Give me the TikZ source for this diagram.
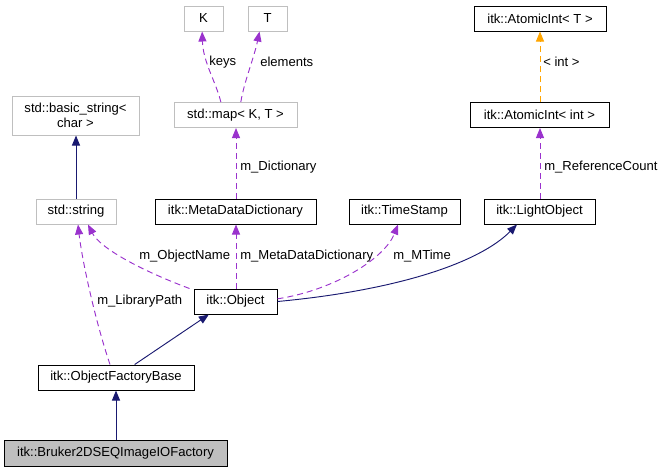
\documentclass[tikz,border=0pt]{standalone}
\usepackage{fontspec}
\setmainfont{Liberation Sans}
\usetikzlibrary{arrows.meta}
\definecolor{edgeblue}{HTML}{191970}
\definecolor{edgepurple}{HTML}{9A32CD}
\definecolor{edgeorange}{HTML}{FFA500}
\definecolor{boxgrey}{HTML}{BFBFBF}
\tikzset{
	cls/.style={draw=black, fill=white, line width=0.75pt, inner sep=0pt, minimum height=18.75pt, font=\fontsize{9.8}{11}\selectfont},
	ext/.style={cls, draw=boxgrey},
	bw/.style={minimum width=#1*0.75pt},
	inherit/.style={draw=edgeblue, line width=0.7pt, -{Triangle[length=7.5pt,width=6pt]}},
	usage/.style={draw=edgepurple, line width=0.7pt, dash pattern=on 4.5pt off 3pt, -{Triangle[length=7.5pt,width=6pt]}},
	tmpl/.style={draw=edgeorange, line width=0.7pt, dash pattern=on 4.5pt off 3pt, -{Triangle[length=7.5pt,width=6pt]}},
	lbl/.style={anchor=west, inner sep=0pt, font=\fontsize{9.8}{11}\selectfont}
}

\begin{document}
\begin{tikzpicture}[x=0.75pt, y=-0.75pt]
		%%%%% START %%%%%
		\useasboundingbox (0, 0) rectangle (663, 472);
		
		\node[ext, bw=39] (key) at (203.5, 18.5) {K};
		\node[ext, bw=39] (elem) at (267.5, 18.5) {T};
		\node[ext, bw=127, minimum height=29.25pt, align=center] (bstr) at (75.5, 115.5) {std::basic\_string<\\char >};
		\node[ext, bw=123] (map) at (235.5, 115) {std::map< K, T >};
		\node[ext, bw=80] (str) at (76, 211.5) {std::string};
		\node[cls, bw=161] (mdd) at (235.5, 211.5) {itk::MetaDataDictionary};
		\node[cls, bw=132] (atomT) at (540, 18.5) {itk::AtomicInt< T >};
		\node[cls, bw=139] (atomInt) at (539.5, 115) {itk::AtomicInt< int >};
		\node[cls, bw=111] (stamp) at (404.5, 211.5) {itk::TimeStamp};
		\node[cls, bw=111] (light) at (539.5, 211.5) {itk::LightObject};
		\node[cls, bw=83] (obj) at (235.5, 301.5) {itk::Object};
		\node[cls, bw=156] (ofb) at (116, 377.5) {itk::ObjectFactoryBase};
		\node[cls, bw=223, minimum height=19.5pt, fill=boxgrey] (bruker) at (115.5, 453) {itk::Bruker2DSEQImageIOFactory};
		
		% inheritance
		\draw[inherit] (str.north) -- (str.north |- bstr.south);
		\draw[inherit] (bruker.north -| ofb.south) -- (ofb.south);
		\draw[inherit] ([xshift=14pt]ofb.north) -- ([xshift=-20pt]obj.south);
		\draw[inherit] (obj.east) .. controls (400, 290) and (480, 262) .. ([xshift=-16.9pt]light.south);
		
		% members
		\draw[usage] ([xshift=-11pt]map.north) .. controls (216, 82) and (203, 62) .. ([xshift=-1pt]key.south);
		\draw[usage] ([xshift=4pt]map.north) .. controls (244, 82) and (254, 58) .. ([xshift=-6pt]elem.south);
		\draw[usage] ([xshift=0.375pt]mdd.north) -- ([xshift=0.375pt]map.south);
		\draw[usage] ([xshift=0.375pt]light.north) -- ([xshift=0.375pt]atomInt.south);
		\draw[usage] ([xshift=0.375pt]obj.north) -- ([xshift=0.375pt]mdd.south);
		\draw[usage] ([yshift=2pt]obj.east) .. controls (335, 290) and (385, 258) .. ([xshift=-4.9pt]stamp.south);
		\draw[usage] ([xshift=-3pt]obj.north west) .. controls (140, 270) and (100, 248) .. ([xshift=9pt]str.south);
		\draw[usage] ([xshift=-4.5pt]ofb.north) .. controls (95, 320) and (82, 260) .. ([xshift=1.5pt]str.south);
		\draw[tmpl] ([xshift=0.375pt]atomInt.north) -- (atomT.south);
		
		\node[lbl] (lkeys) at (209, 62) {keys};
		\node[lbl] (lelem) at (260, 62) {elements};
		\node[lbl] (ldict) at (240, 167) {m\_Dictionary};
		\node[lbl] (lint) at (543, 62) {< int >};
		\node[lbl] (lref) at (544, 167) {m\_ReferenceCount};
		\node[lbl] (lname) at (139, 256) {m\_ObjectName};
		\node[lbl] (lmdd) at (240, 256) {m\_MetaDataDictionary};
		\node[lbl] (ltime) at (393, 256) {m\_MTime};
		\node[lbl] (lpath) at (97, 301) {m\_LibraryPath};
		
		%%%%% END %%%%%
\end{tikzpicture}
\end{document}
